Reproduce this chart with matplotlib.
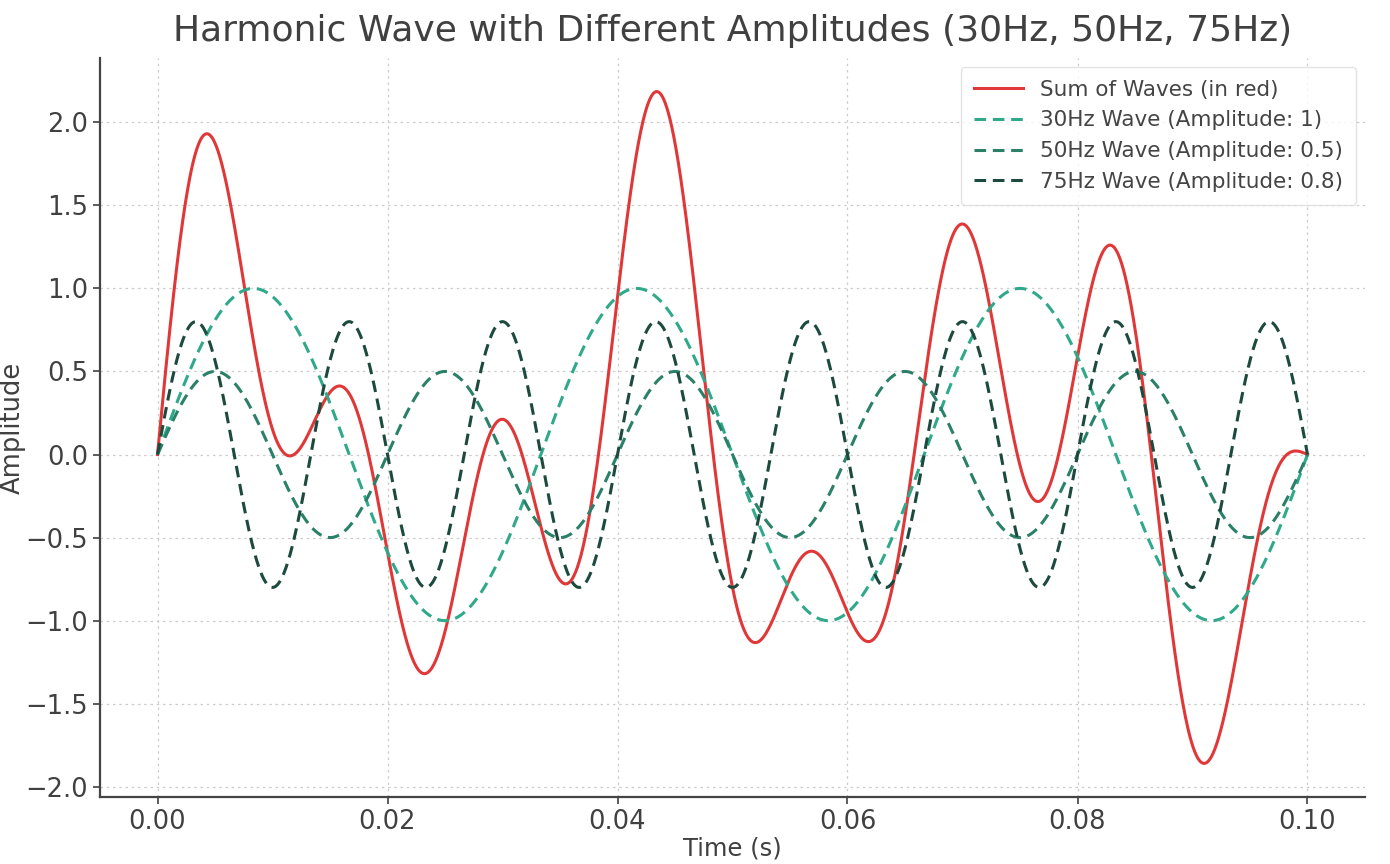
import numpy as np
import matplotlib
matplotlib.use("Agg")
import matplotlib.pyplot as plt

# Wave parameters read from the title / legend
freqs = [30, 50, 75]            # Hz
amps = [1.0, 0.5, 0.8]
wave_labels = ["30Hz Wave (Amplitude: 1)",
               "50Hz Wave (Amplitude: 0.5)",
               "75Hz Wave (Amplitude: 0.8)"]
wave_colors = ["#2fa98a", "#2a8068", "#1d4a3e"]
sum_label = "Sum of Waves (in red)"
t_start, t_end = 0.0, 0.1

t = np.linspace(t_start, t_end, 2000)
waves = [a * np.sin(2 * np.pi * f * t) for f, a in zip(freqs, amps)]
total = np.sum(waves, axis=0)

fig = plt.figure(figsize=(13.9, 8.64), dpi=100)
ax = fig.add_axes([100 / 1390, 1 - 797 / 864, 1265 / 1390, 739 / 864])

ax.plot(t, total, color="#e03838", lw=2.2, label=sum_label)
for w, lab, c in zip(waves, wave_labels, wave_colors):
    ax.plot(t, w, color=c, lw=2.2, ls=(0, (3.8, 2.2)), label=lab)

ax.set_title("Harmonic Wave with Different Amplitudes (30Hz, 50Hz, 75Hz)",
             fontsize=26, color="#404040", pad=12)
ax.set_xlabel("Time (s)", fontsize=17.5, color="#404040", labelpad=1)
ax.set_ylabel("Amplitude", fontsize=18.5, color="#404040")
ax.yaxis.set_label_coords(-0.059, 0.5)

ax.set_xticks([0.0, 0.02, 0.04, 0.06, 0.08, 0.1])
ax.set_xticklabels(["0.00", "0.02", "0.04", "0.06", "0.08", "0.10"])
ax.set_yticks(np.arange(-2.0, 2.01, 0.5))
ax.tick_params(labelsize=18.5, colors="#404040", length=5, width=1.2)

ax.grid(True, ls=(0, (2, 3)), color="#cccccc", lw=0.9)
for s in ["top", "right"]:
    ax.spines[s].set_visible(False)
for s in ["left", "bottom"]:
    ax.spines[s].set_color("#444444")
    ax.spines[s].set_linewidth(1.6)

leg = ax.legend(loc="upper right", fontsize=15.5, handlelength=2.3,
                frameon=True, borderpad=0.6, labelspacing=0.5,
                borderaxespad=0.4)
for txt in leg.get_texts():
    txt.set_color("#444444")
leg.get_frame().set_edgecolor("#dddddd")

fig.savefig("out.png", dpi=100)
